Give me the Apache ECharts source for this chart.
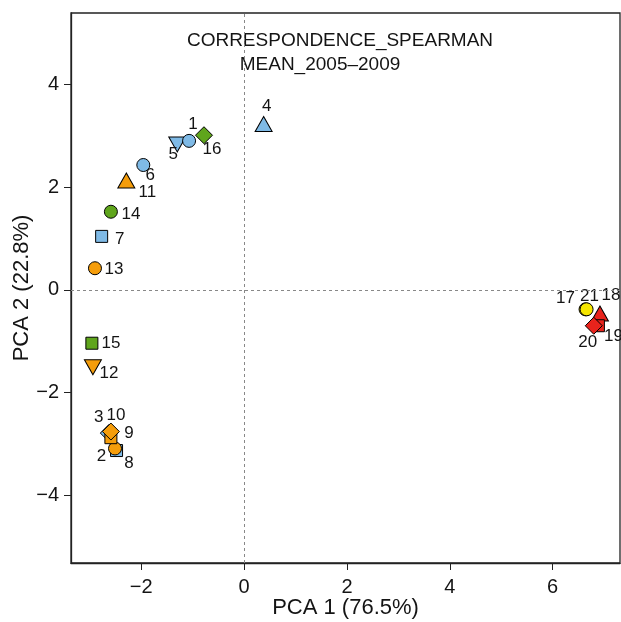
<!DOCTYPE html>
<html>
<head>
<meta charset="utf-8">
<script src="https://cdn.jsdelivr.net/npm/echarts@6/dist/echarts.min.js"></script>
<style>
  html, body { margin: 0; padding: 0; background: #fff; }
  #chart { width: 621px; height: 622px; }
</style>
</head>
<body>
<div id="chart"></div>
<script>
// Sample scores on the first two principal components
const sampleIds = ['3', '2', '8', '9', '10', '5', '1', '16', '4', '6', '11', '14', '7', '13', '15', '12', '17', '21', '18', '19', '20'];
const pca1Scores = [-2.63, -2.48, -2.51, -2.59, -2.59, -1.30, -1.07, -0.78, 0.38, -1.96, -2.29, -2.59, -2.77, -2.90, -2.96, -2.94, 6.64, 6.66, 6.92, 6.89, 6.80];
const pca2Scores = [-2.79, -3.13, -3.09, -2.88, -2.76, 2.87, 2.90, 3.01, 3.19, 2.43, 2.09, 1.52, 1.04, 0.42, -1.04, -1.47, -0.38, -0.38, -0.50, -0.70, -0.70];
const sampleShapes = ['diamond', 'square', 'circle', 'square', 'diamond', 'down', 'circle', 'diamond', 'up', 'circle', 'up', 'circle', 'square', 'circle', 'square', 'down', 'circle', 'circle', 'up', 'square', 'diamond'];
const sampleGroups = ['blue', 'blue', 'orange', 'orange', 'orange', 'blue', 'blue', 'green', 'blue', 'blue', 'orange', 'green', 'blue', 'orange', 'green', 'orange', 'yellow', 'yellow', 'red', 'red', 'red'];

const xTicks = [-2, 0, 2, 4, 6];
const yTicks = [-4, -2, 0, 2, 4];
const titleLines = ['CORRESPONDENCE_SPEARMAN', 'MEAN_2005\u20132009'];
const xAxisTitle = 'PCA 1 (76.5%)';
const yAxisTitle = 'PCA 2 (22.8%)';

// Styling
const groupColors = { blue: '#7fbae6', orange: '#f59d0b', green: '#5fa51c', yellow: '#f5e600', red: '#e8231c' };
const shapeStyle = {
  circle:  { symbol: 'circle', size: 13, rotate: 0 },
  square:  { symbol: 'rect', size: 12, rotate: 0 },
  diamond: { symbol: 'diamond', size: [17, 17], rotate: 0 },
  up:      { symbol: 'triangle', size: [17, 15], rotate: 0, dy: -2 },
  down:    { symbol: 'triangle', size: [17, 15], rotate: 180, dy: 2 }
};
// label placement around each mark, in pixels
const labelOffsets = {
  '1': [4, -17], '16': [8, 14], '5': [-4, 12], '4': [3, -20], '6': [7, 10], '11': [21, 10],
  '14': [20, 3], '7': [18, 3], '13': [19, 1], '15': [19, 0], '12': [16, 8], '3': [-10, -16],
  '10': [5, -16], '9': [18, -4], '2': [-15, 6], '8': [14, 15], '17': [-20, -11], '21': [3, -13],
  '18': [11, -20], '20': [-6, 17], '19': [15, 11]
};

const fontFamily = '"Liberation Sans", Arial, Helvetica, sans-serif';
const textColor = '#141414';
const minus = v => (v < 0 ? '\u2212' + Math.abs(v) : String(v));

const points = sampleIds.map((id, i) => {
  const s = shapeStyle[sampleShapes[i]];
  const off = labelOffsets[id] || [0, 0];
  return {
    name: id,
    value: [pca1Scores[i], pca2Scores[i]],
    symbol: s.symbol,
    symbolSize: s.size,
    symbolRotate: s.rotate,
    symbolOffset: [0, s.dy || 0],
    itemStyle: { color: groupColors[sampleGroups[i]], borderColor: '#000', borderWidth: 1, opacity: 1 },
    label: {
      show: true, position: 'inside', formatter: id,
      offset: [off[0], off[1] - (s.dy || 0)],
      color: textColor, fontSize: 17, fontFamily: fontFamily,
      textBorderWidth: 0
    }
  };
});

const chart = echarts.init(document.getElementById('chart'), null, { renderer: 'canvas' });
chart.setOption({
  animation: false,
  backgroundColor: '#fff',
  graphic: [
    { type: 'text', x: 340, y: 41, silent: true,
      style: { text: titleLines[0], fill: textColor, font: '19px ' + fontFamily, textAlign: 'center', textVerticalAlign: 'middle' } },
    { type: 'text', x: 320, y: 65, silent: true,
      style: { text: titleLines[1], fill: textColor, font: '19px ' + fontFamily, textAlign: 'center', textVerticalAlign: 'middle' } }
  ],
  grid: {
    left: 71, right: 1, top: 13, bottom: 59,
    containLabel: false, outerBoundsMode: 'none',
    show: true, borderColor: '#222', borderWidth: 1.3, backgroundColor: 'transparent'
  },
  xAxis: {
    type: 'value', min: -3.366, max: 7.31,
    name: xAxisTitle, nameLocation: 'middle', nameGap: 34, nameMoveOverlap: false,
    nameTextStyle: { fontSize: 22, color: textColor, fontFamily: fontFamily },
    axisLine: { show: true, onZero: false, lineStyle: { color: '#222', width: 1.3 } },
    axisTick: { show: true, length: 7, customValues: xTicks, lineStyle: { color: '#222' } },
    axisLabel: { customValues: xTicks, formatter: minus, margin: 14, fontSize: 20, color: textColor, fontFamily: fontFamily },
    splitLine: { show: false }
  },
  yAxis: {
    type: 'value', min: -5.32, max: 5.39,
    name: yAxisTitle, nameLocation: 'middle', nameGap: 38, nameMoveOverlap: false,
    nameTextStyle: { fontSize: 22, color: textColor, fontFamily: fontFamily },
    axisLine: { show: true, onZero: false, lineStyle: { color: '#222', width: 1.3 } },
    axisTick: { show: true, length: 7, customValues: yTicks, lineStyle: { color: '#222' } },
    axisLabel: { customValues: yTicks, formatter: minus, margin: 12, fontSize: 20, color: textColor, fontFamily: fontFamily },
    splitLine: { show: false }
  },
  series: [{
    type: 'scatter',
    data: points,
    markLine: {
      silent: true, symbol: 'none', animation: false,
      label: { show: false },
      lineStyle: { type: [3, 3], color: '#888', width: 1 },
      data: [{ xAxis: 0 }, { yAxis: 0 }]
    }
  }]
});
</script>
</body>
</html>
